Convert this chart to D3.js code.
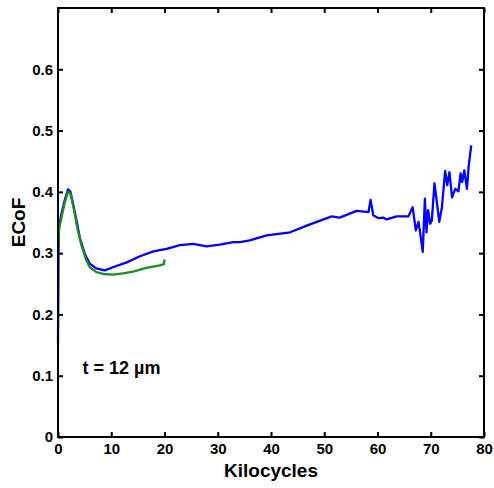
<!DOCTYPE html>
<html>
<head>
<meta charset="utf-8">
<script src="https://cdn.jsdelivr.net/npm/d3@7"></script>
<style>
  body { margin: 0; background: #fff; }
  text { font-family: "Liberation Sans", Arial, sans-serif; font-weight: bold; fill: #000; }
</style>
</head>
<body>
<div id="chart-area"></div>
<script>
// Datos
const blueKc = [0, 0.1, 0.19, 0.64, 1.26, 1.88, 2.33, 2.82, 3.46, 4.08, 5.02, 5.96, 7.2, 8.78, 10.3, 12.9, 15.4, 17.9, 20.4, 22.9, 25.4, 27.9, 30.4, 32.9, 34.2, 36.0, 39.2, 43.6, 46.7, 51.4, 52.9, 56.1, 58.3, 58.7, 59.2, 60.2, 61.1, 61.7, 63.6, 65.8, 66.6, 67.2, 67.7, 68.0, 68.5, 68.9, 69.2, 69.5, 69.9, 70.2, 70.7, 71.1, 71.6, 72.1, 72.7, 73.1, 73.5, 74.0, 74.6, 75.2, 75.6, 75.9, 76.3, 76.8, 77.1, 77.6];
const blueEcof = [0.153, 0.30, 0.343, 0.364, 0.386, 0.404, 0.400, 0.381, 0.354, 0.326, 0.299, 0.283, 0.275, 0.272, 0.277, 0.285, 0.295, 0.303, 0.307, 0.313, 0.315, 0.311, 0.314, 0.318, 0.318, 0.321, 0.329, 0.334, 0.345, 0.360, 0.358, 0.369, 0.367, 0.387, 0.362, 0.357, 0.358, 0.355, 0.360, 0.360, 0.375, 0.337, 0.351, 0.334, 0.302, 0.389, 0.334, 0.370, 0.348, 0.353, 0.414, 0.386, 0.351, 0.375, 0.434, 0.411, 0.432, 0.391, 0.405, 0.401, 0.430, 0.416, 0.435, 0.405, 0.440, 0.476];

const greenKc = [0, 0.2, 0.7, 1.3, 1.88, 2.33, 2.95, 3.58, 4.39, 5.2, 5.96, 7.2, 8.5, 10.3, 12.2, 14.1, 16.6, 19.1, 19.9, 20.0];
const greenEcof = [0.30, 0.34, 0.36, 0.383, 0.400, 0.397, 0.373, 0.343, 0.313, 0.291, 0.277, 0.269, 0.266, 0.265, 0.267, 0.270, 0.276, 0.280, 0.282, 0.290];

const xTicks = [0, 10, 20, 30, 40, 50, 60, 70, 80];
const yTicks = [0, 0.1, 0.2, 0.3, 0.4, 0.5, 0.6];

// Margenes y dimensiones
const margin = { top: 8, right: 10, bottom: 51, left: 58 };
const width = 494 - margin.left - margin.right;
const height = 488 - margin.top - margin.bottom;

const svg = d3.select("#chart-area").append("svg")
    .attr("width", 494)
    .attr("height", 488);

const g = svg.append("g")
    .attr("transform", `translate(${margin.left}, ${margin.top})`);

// Escalas
const x = d3.scaleLinear().domain([0, 80]).range([0, width]);
const y = d3.scaleLinear().domain([0, 0.7]).range([height, 0]);

// Ejes (marcas hacia dentro)
const fmtY = d => d === 0 ? "0" : d3.format(".1f")(d);

g.append("g")
    .attr("transform", `translate(0, ${height})`)
    .call(d3.axisBottom(x).tickValues(xTicks).tickSize(-5).tickPadding(6))
    .call(a => a.selectAll("text").style("font-size", "15px"));

g.append("g")
    .call(d3.axisTop(x).tickValues(xTicks).tickSize(-5).tickFormat(""));

g.append("g")
    .call(d3.axisLeft(y).tickValues(yTicks).tickSize(-5).tickPadding(5).tickFormat(fmtY))
    .call(a => a.selectAll("text").style("font-size", "15px"));

g.append("g")
    .attr("transform", `translate(${width}, 0)`)
    .call(d3.axisRight(y).tickValues(yTicks).tickSize(-5).tickFormat(""));

g.selectAll(".domain").remove();
g.selectAll(".tick line").attr("stroke", "#000").attr("stroke-width", 2);

// Lineas
const line = d3.line()
    .x(d => x(d[0]))
    .y(d => y(d[1]));

g.append("path")
    .datum(d3.zip(blueKc, blueEcof))
    .attr("fill", "none")
    .attr("stroke", "#0000ff")
    .attr("stroke-width", 2.3)
    .attr("stroke-linejoin", "round")
    .attr("d", line);

g.append("path")
    .datum(d3.zip(greenKc, greenEcof))
    .attr("fill", "none")
    .attr("stroke", "#1f8c1f")
    .attr("stroke-width", 2.3)
    .attr("stroke-linejoin", "round")
    .attr("d", line);

// Marco
g.append("rect")
    .attr("width", width)
    .attr("height", height)
    .attr("fill", "none")
    .attr("stroke", "#000")
    .attr("stroke-width", 2);

// Titulos
g.append("text")
    .attr("x", width / 2)
    .attr("y", height + 40)
    .attr("text-anchor", "middle")
    .style("font-size", "19px")
    .text("Kilocycles");

svg.append("text")
    .attr("transform", `translate(25, ${margin.top + height / 2}) rotate(-90)`)
    .attr("text-anchor", "middle")
    .style("font-size", "19px")
    .text("ECoF");

g.append("text")
    .attr("x", x(4.6))
    .attr("y", y(0.102))
    .style("font-size", "18px")
    .text("t = 12 µm");
</script>
</body>
</html>
